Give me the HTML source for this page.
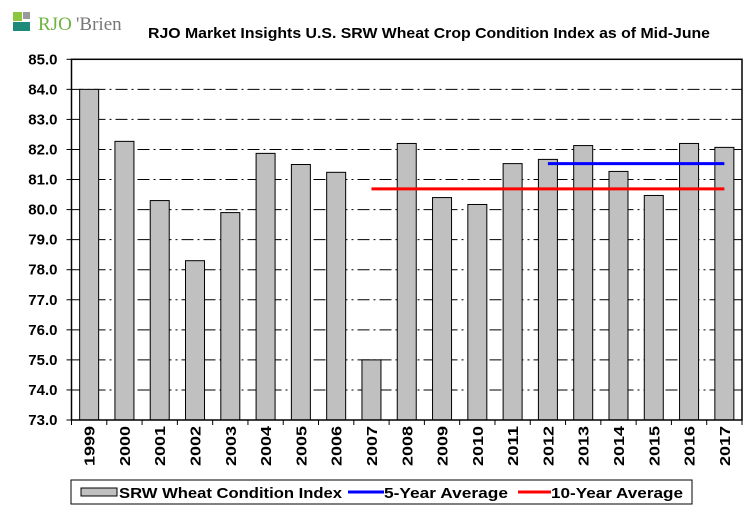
<!DOCTYPE html>
<html><head><meta charset="utf-8"><style>
body{margin:0;background:#fff;}
svg{display:block;font-family:"Liberation Sans",Arial,sans-serif;}
</style></head><body>
<svg id="chart" width="756" height="516">
<g>
<rect x="13" y="12" width="9" height="9" fill="#8dc63f"/>
<rect x="23" y="12" width="7" height="7" fill="#9a9a9a"/>
<rect x="13" y="22" width="17" height="9" fill="#1e8a7a"/>
<text x="38" y="30" font-size="19" fill="#6cb33f" font-family="Liberation Serif,serif">RJO</text>
<text x="76" y="30" font-size="19" fill="#777" font-family="Liberation Serif,serif">'Brien</text>
</g>
<text x="148" y="38" font-size="15" font-weight="bold" textLength="562" lengthAdjust="spacingAndGlyphs">RJO Market Insights U.S. SRW Wheat Crop Condition Index as of Mid-June</text>
<g id="grid"></g><g id="bars"></g><g id="lines"></g><g id="axes"></g>
<g>
<rect x="71" y="480" width="621" height="24" fill="#fff" stroke="#000"/>
<rect x="81" y="488" width="36" height="8" fill="#c0c0c0" stroke="#000"/>
<text x="119" y="498" font-size="15" font-weight="bold" textLength="223" lengthAdjust="spacingAndGlyphs">SRW Wheat Condition Index</text>
<line x1="348" y1="492" x2="384" y2="492" stroke="#0000ff" stroke-width="3"/>
<text x="384" y="498" font-size="15" font-weight="bold" textLength="124" lengthAdjust="spacingAndGlyphs">5-Year Average</text>
<line x1="518" y1="492" x2="551" y2="492" stroke="#ff0000" stroke-width="3"/>
<text x="551" y="498" font-size="15" font-weight="bold" textLength="132" lengthAdjust="spacingAndGlyphs">10-Year Average</text>
</g>
</svg>
<script>
const years=["1999","2000","2001","2002","2003","2004","2005","2006","2007","2008","2009","2010","2011","2012","2013","2014","2015","2016","2017"];
const values=[84.0,82.27,80.3,78.3,79.9,81.87,81.5,81.24,75.0,82.2,80.4,80.17,81.53,81.67,82.13,81.27,80.47,82.2,82.07];
const avg5=[81.53];
const avg5Range=["2012","2017"];
const avg10=[80.69];
const avg10Range=["2007","2017"];
const yTicks=[73,74,75,76,77,78,79,80,81,82,83,84,85];
const L=71.5,R=742,T=59.3,B=420,ymin=73,ymax=85;
const NS="http://www.w3.org/2000/svg";
const cw=(R-L)/years.length;
const y=v=>B-(v-ymin)/(ymax-ymin)*(B-T);
const xc=i=>L+(i+0.5)*cw;
function mk(p,t,a){const e=document.createElementNS(NS,t);for(const k in a)e.setAttribute(k,a[k]);document.getElementById(p).appendChild(e);return e;}
yTicks.forEach(t=>{
 if(t>ymin&&t<ymax){const g=mk('grid','line',{x1:L,x2:R,y1:y(t),y2:y(t),stroke:'#000','stroke-dasharray':'12,4,2,4'});
 
 }
 mk('axes','line',{x1:L-5,x2:L,y1:y(t),y2:y(t),stroke:'#000'});
 const tx=mk('axes','text',{x:L-14,y:y(t)+5,'text-anchor':'end','font-size':15,'font-weight':'bold'});
 tx.textContent=t.toFixed(1);
 
 
});
years.forEach((yr,i)=>{
 const b=mk('bars','rect',{x:xc(i)-9.5,y:y(values[i]),width:19,height:B-y(values[i]),fill:'#c0c0c0',stroke:'#000','stroke-width':1});
 
 
 mk('axes','line',{x1:L+i*cw,x2:L+i*cw,y1:B,y2:B+5,stroke:'#000'});
 const tx=mk('axes','text',{x:0,y:0,'text-anchor':'end','font-size':15,'font-weight':'bold',textLength:40,lengthAdjust:'spacingAndGlyphs',transform:`translate(${xc(i)+5.5},${B+6}) rotate(-90)`});
 tx.textContent=yr;
 
 
});
mk('axes','line',{x1:R,x2:R,y1:B,y2:B+5,stroke:'#000'});
mk('axes','rect',{x:L,y:T,width:R-L,height:B-T,fill:'none',stroke:'#000','stroke-width':1.5});
const l10=mk('lines','line',{x1:xc(years.indexOf(avg10Range[0])),x2:xc(years.indexOf(avg10Range[1])),y1:y(avg10[0]),y2:y(avg10[0]),stroke:'#ff0000','stroke-width':3});


const l5=mk('lines','line',{x1:xc(years.indexOf(avg5Range[0])),x2:xc(years.indexOf(avg5Range[1])),y1:y(avg5[0]),y2:y(avg5[0]),stroke:'#0000ff','stroke-width':3});


</script>
</body></html>
